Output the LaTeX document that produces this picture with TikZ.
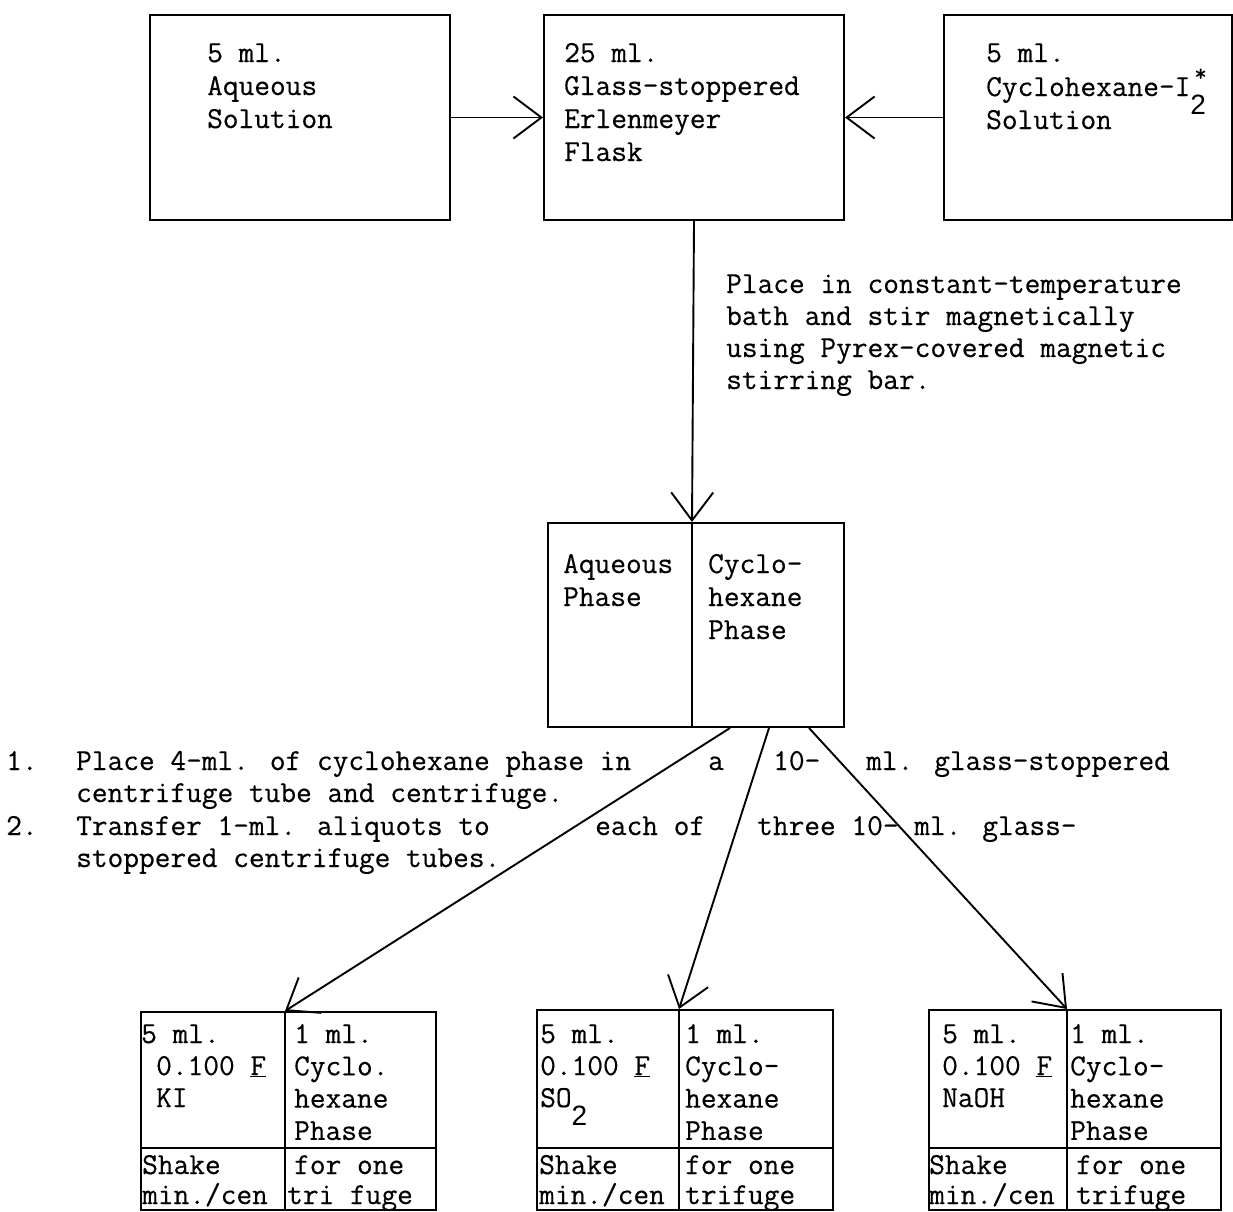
\documentclass[tikz,border=0pt]{standalone}
\usepackage{fontspec}
\newfontfamily\tw[FakeBold=0.4]{Latin Modern Mono}
\newfontfamily\subsans{Liberation Sans}
\usetikzlibrary{arrows.meta,calc}

\begin{document}
\begin{tikzpicture}[x=1pt,y=-1pt,
  box/.style={draw, line width=2pt, inner sep=0pt, anchor=north west},
  rule/.style={line width=2pt},
  conn/.style={line width=1.9pt,
    -{Straight Barb[length=28pt,width=42pt,line width=1.9pt]}},
  txt/.style={anchor=base west, inner sep=0pt,
    font=\tw\fontsize{30.5}{33}\selectfont},
]
\useasboundingbox[fill=white] (0,0) rectangle (1233,1211);

% ---- top row of boxes ----
\node[box, minimum width=300pt, minimum height=205pt] (aq) at (149,14) {};
\node[box, minimum width=300pt, minimum height=205pt] (fl) at (543,14) {};
\node[box, minimum width=288pt, minimum height=205pt] (cy) at (943,14) {};

\foreach \s [count=\i from 0] in {5 ml.,Aqueous,Solution}
  \node[txt] (aq\i) at (207,62+33*\i) {\s};
\foreach \s [count=\i from 0] in {25 ml.,Glass-stoppered,Erlenmeyer,Flask}
  \node[txt] (fl\i) at (564,62+33*\i) {\s};
\node[txt] (cy0) at (986,62) {5 ml.};
\node[txt] (cy1) at (986,96) {Cyclohexane-I\rlap{\raisebox{15pt}{\fontsize{24}{24}\selectfont\,*}}\raisebox{-18pt}{\subsans\fontsize{28}{28}\selectfont 2}};
\node[txt] (cy2) at (986,129) {Solution};

\draw[conn] (aq.east) -- (fl.west);
\draw[conn] (cy.west) -- (fl.east);

% ---- stirring step ----
\foreach \s [count=\i from 0] in {Place in constant-temperature,
    bath and stir magnetically,
    using Pyrex-covered magnetic,
    stirring bar.}
  \node[txt] (st\i) at (726,293+32*\i) {\s};

% ---- two-phase box ----
\node[box, minimum width=296pt, minimum height=204pt] (ph) at (547,522) {};
\coordinate (phtop) at ($(ph.north west)+(145,0)$);
\coordinate (phbot) at ($(ph.south west)+(145,0)$);
\draw[rule] (phtop) -- (phbot);
\node[txt] (pa0) at (563,573) {Aqueous};
\node[txt] (pa1) at (563,606) {Phase};
\foreach \s [count=\i from 0] in {Cyclo-,hexane,Phase}
  \node[txt] (pc\i) at (708,573+33*\i) {\s};

\draw[conn] (fl.south) -- (phtop);

% ---- transfer instructions ----
\node[txt] (n1) at (6,770) {1.};
\node[txt] (n1a) at (76,770) {Place 4-ml. of cyclohexane phase in};
\node[txt] (n1b) at (708,770) {a};
\node[txt] (n1c) at (773,770) {10-};
\node[txt] (n1d) at (866,770) {ml. glass-stoppered};
\node[txt] (n2) at (76,802) {centrifuge tube and centrifuge.};
\node[txt] (n3) at (6,835) {2.};
\node[txt] (n3a) at (76,835) {Transfer 1-ml. aliquots to};
\node[txt] (n3b) at (595,835) {each of};
\node[txt] (n3c) at (757,835) {three 10- ml. glass-};
\node[txt] (n4) at (76,867) {stoppered centrifuge tubes.};

% ---- three extraction tubes ----
\node[box, minimum width=295pt, minimum height=198pt] (kb) at (140,1011) {};
\node[box, minimum width=296pt, minimum height=200pt] (sb) at (536,1009) {};
\node[box, minimum width=292pt, minimum height=200pt] (nb) at (928,1009) {};

\coordinate (kt) at ($(kb.north west)+(145,0)$);
\coordinate (st) at ($(sb.north west)+(143,0)$);
\coordinate (nt) at ($(nb.north west)+(139,0)$);
\draw[rule] (kt) -- ($(kb.south west)+(145,0)$);
\draw[rule] (st) -- ($(sb.south west)+(143,0)$);
\draw[rule] (nt) -- ($(nb.south west)+(139,0)$);
\draw[rule] ($(kb.north west)+(0,137)$) -- ($(kb.north east)+(0,137)$);
\draw[rule] ($(sb.north west)+(0,139)$) -- ($(sb.north east)+(0,139)$);
\draw[rule] ($(nb.north west)+(0,139)$) -- ($(nb.north east)+(0,139)$);

% KI tube
\node[txt] (k0) at (141,1043) {5 ml.};
\node[txt] (k1) at (156,1075) {0.100 \underline{F}};
\node[txt] (k2) at (156,1107) {KI};
\foreach \s [count=\i from 0] in {1 ml.,Cyclo.,hexane,Phase}
  \node[txt] (kc\i) at (294,1043+32.3*\i) {\s};
\node[txt] (k5) at (142,1174) {Shake};
\node[txt] (k6) at (142,1204) {min./cen};
\node[txt] (k7) at (294,1174) {for one};
\node[txt] (k8) at (287,1204) {tri fuge};

% SO2 tube
\node[txt] (s0) at (540,1043) {5 ml.};
\node[txt] (s1) at (540,1075) {0.100 \underline{F}};
\node[txt] (s2) at (540,1107) {SO\raisebox{-18pt}{\subsans\fontsize{28}{28}\selectfont 2}};
\foreach \s [count=\i from 0] in {1 ml.,Cyclo-,hexane,Phase}
  \node[txt] (sc\i) at (685,1043+32.3*\i) {\s};
\node[txt] (s5) at (539,1174) {Shake};
\node[txt] (s6) at (539,1204) {min./cen};
\node[txt] (s7) at (685,1174) {for one};
\node[txt] (s8) at (685,1204) {trifuge};

% NaOH tube
\node[txt] (a0) at (942,1043) {5 ml.};
\node[txt] (a1) at (942,1075) {0.100 \underline{F}};
\node[txt] (a2) at (942,1107) {NaOH};
\foreach \s [count=\i from 0] in {1 ml.,Cyclo-,hexane,Phase}
  \node[txt] (ac\i) at (1070,1043+32.3*\i) {\s};
\node[txt] (a5) at (929,1174) {Shake};
\node[txt] (a6) at (929,1204) {min./cen};
\node[txt] (a7) at (1076,1174) {for one};
\node[txt] (a8) at (1076,1204) {trifuge};

% ---- transfers to the tubes ----
\coordinate (p1) at ($(ph.south west)+(183,0)$);
\coordinate (p2) at ($(ph.south west)+(222,0)$);
\coordinate (p3) at ($(ph.south west)+(262,0)$);
\draw[conn] (p1) -- (kt);
\draw[conn] (p2) -- (st);
\draw[conn] (p3) -- (nt);
\end{tikzpicture}
\end{document}
